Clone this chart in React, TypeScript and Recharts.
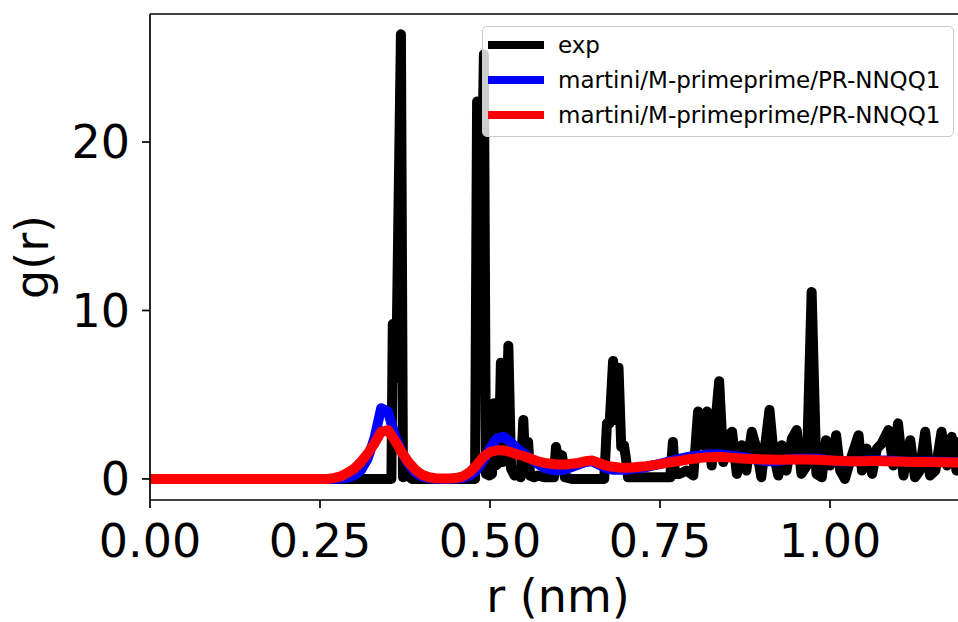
import React from "react";
import { LineChart, Line, XAxis, YAxis, ReferenceLine } from "recharts";

// experimental g(r): hand-read (r, g) pairs, spiky histogram
const expR = [
  0, 0.35, 0.355, 0.357, 0.362, 0.369, 0.372, 0.38, 0.385, 0.47,
  0.478, 0.481, 0.486, 0.491, 0.494, 0.499, 0.503, 0.506, 0.509, 0.513,
  0.516, 0.519, 0.523, 0.527, 0.531, 0.536, 0.541, 0.545, 0.549, 0.552,
  0.556, 0.559, 0.565, 0.57, 0.58, 0.59, 0.594, 0.597, 0.601, 0.606,
  0.61, 0.62, 0.668, 0.672, 0.676, 0.681, 0.685, 0.689, 0.693, 0.697,
  0.7, 0.703, 0.765, 0.769, 0.772, 0.779, 0.789, 0.799, 0.806, 0.813,
  0.819, 0.826, 0.837, 0.843, 0.848, 0.856, 0.863, 0.87, 0.877, 0.885,
  0.892, 0.899, 0.911, 0.917, 0.924, 0.929, 0.936, 0.944, 0.951, 0.958,
  0.966, 0.973, 0.98, 0.988, 0.994, 1.0, 1.009, 1.015, 1.022, 1.029,
  1.042, 1.047, 1.054, 1.062, 1.069, 1.076, 1.086, 1.093, 1.1, 1.108,
  1.118, 1.125, 1.132, 1.14, 1.147, 1.155, 1.164, 1.172, 1.179, 1.186,
  1.19, 1.195, 1.2,
];
const expG = [
  0, 0, 0, 9.2, 6, 26.4, 0.1, 0.2, 0, 0,
  0, 22.4, 12, 25.2, 0.3, 0.2, 0.3, 4.5, 0.8, 1.0,
  6.9, 1.0, 1.2, 7.9, 0.6, 0.2, 0.5, 0.1, 3.5, 0.6,
  2.2, 0.2, 0.1, 0.2, 0.1, 0.1, 0.1, 1.9, 1.0, 1.4,
  0.1, 0, 0, 3.3, 3.3, 7.0, 3.5, 6.6, 1.9, 2.0,
  1.2, 0.1, 0.1, 2.2, 0.3, 0.3, 0.5, 0.2, 4.0, 2.0,
  4.0, 0.8, 5.8, 1.0, 2.5, 2.8, 0.3, 2.0, 0.5, 2.8,
  1.8, 0.1, 4.1, 1.5, 0.2, 2.0, 0.5, 2.4, 2.9, 0.3,
  0.8, 11.1, 0.3, 0.1, 2.3, 0.8, 2.6, 0.5, 0, 1.0,
  2.6, 0.5, 1.8, 0.3, 1.8, 2.1, 2.9, 0.8, 3.3, 0.2,
  2.3, 0.1, 0.5, 2.8, 0.2, 0.5, 2.8, 0.8, 2.5, 0.5,
  2.2, 0.4, 1.0,
];

// simulation grid (nm) and the two martini curves
const simR = [
  0, 0.26, 0.27, 0.28, 0.29, 0.3, 0.31, 0.32, 0.33, 0.34,
  0.35, 0.36, 0.37, 0.38, 0.39, 0.4, 0.41, 0.42, 0.43, 0.44,
  0.45, 0.46, 0.47, 0.48, 0.49, 0.5, 0.51, 0.52, 0.53, 0.54,
  0.55, 0.56, 0.57, 0.58, 0.59, 0.6, 0.61, 0.62, 0.63, 0.64,
  0.65, 0.66, 0.67, 0.68, 0.69, 0.7, 0.71, 0.72, 0.73, 0.74,
  0.75, 0.76, 0.77, 0.78, 0.79, 0.8, 0.81, 0.82, 0.83, 0.84,
  0.85, 0.86, 0.87, 0.88, 0.89, 0.9, 0.91, 0.92, 0.93, 0.94,
  0.95, 0.96, 0.97, 0.98, 0.99, 1.0, 1.01, 1.02, 1.03, 1.04,
  1.05, 1.06, 1.07, 1.08, 1.09, 1.1, 1.11, 1.12, 1.13, 1.14,
  1.15, 1.16, 1.17, 1.18, 1.19, 1.2,
];
const blueG = [
  0, 0, 0, 0.02, 0.08, 0.2, 0.5, 1.2, 2.4, 4.2,
  4.0, 2.6, 1.6, 0.9, 0.4, 0.15, 0.05, 0.01, 0, 0,
  0.02, 0.06, 0.2, 0.5, 1.1, 1.8, 2.4, 2.5, 2.2, 1.8,
  1.5, 1.2, 0.9, 0.65, 0.55, 0.52, 0.55, 0.7, 0.85, 1.0,
  1.05, 0.85, 0.65, 0.55, 0.55, 0.55, 0.6, 0.65, 0.7, 0.8,
  0.9, 1.0, 1.1, 1.2, 1.3, 1.35, 1.4, 1.45, 1.45, 1.45,
  1.4, 1.35, 1.3, 1.25, 1.15, 1.1, 1.05, 1.05, 1.1, 1.15,
  1.2, 1.2, 1.2, 1.2, 1.15, 1.1, 1.05, 1.05, 1.05, 1.05,
  1.08, 1.1, 1.1, 1.1, 1.08, 1.05, 1.03, 1.02, 1.02, 1.03,
  1.03, 1.02, 1.0, 1.0, 0.98, 0.98,
];
const redG = [
  0, 0, 0.05, 0.15, 0.35, 0.6, 1.0, 1.5, 2.1, 2.8,
  2.9, 2.3, 1.6, 1.0, 0.55, 0.25, 0.1, 0.04, 0.02, 0.02,
  0.05, 0.15, 0.4, 0.8, 1.3, 1.6, 1.7, 1.7, 1.6, 1.45,
  1.35, 1.2, 1.05, 0.95, 0.9, 0.85, 0.85, 0.9, 0.95, 1.05,
  1.1, 0.95, 0.8, 0.72, 0.68, 0.66, 0.68, 0.72, 0.76, 0.82,
  0.88, 0.95, 1.02, 1.08, 1.15, 1.2, 1.25, 1.28, 1.3, 1.3,
  1.28, 1.25, 1.22, 1.2, 1.18, 1.16, 1.15, 1.14, 1.14, 1.15,
  1.16, 1.16, 1.15, 1.14, 1.12, 1.1, 1.08, 1.06, 1.05, 1.05,
  1.05, 1.06, 1.06, 1.05, 1.04, 1.03, 1.02, 1.01, 1.0, 1.0,
  1.0, 0.99, 0.99, 0.98, 0.98, 0.98,
];

const xTicks = [0, 0.25, 0.5, 0.75, 1.0];
const yTicks = [0, 10, 20];
const yMax = 27.6;

const seriesNames = [
  "exp",
  "martini/M-primeprime/PR-NNQQ1",
  "martini/M-primeprime/PR-NNQQ1",
];
const seriesColors = ["#000000", "#0000ff", "#ff0000"];

const expData = expR.map((r, i) => ({ r, g: expG[i] }));
const blueData = simR.map((r, i) => ({ r, g: blueG[i] }));
const redData = simR.map((r, i) => ({ r, g: redG[i] }));

const font = "DejaVu Sans";

export default function App() {
  return (
    <div
      style={{
        position: "absolute",
        left: 0,
        top: 0,
        width: 958,
        height: 622,
        overflow: "hidden",
        background: "#fff",
      }}
    >
      <LineChart width={966} height={622} margin={{ top: 14, right: 0, left: 0, bottom: 0 }}>
        <XAxis
          dataKey="r"
          type="number"
          domain={[0, 1.2]}
          ticks={xTicks}
          interval={0}
          allowDataOverflow
          tickFormatter={(v: number) => v.toFixed(2)}
          height={122}
          tickSize={8}
          tickMargin={16}
          stroke="#000"
          strokeWidth={1.7}
          tick={{ fill: "#000", fontSize: 46, fontFamily: font }}
          label={{
            value: "r (nm)",
            position: "insideBottom",
            offset: 10,
            fill: "#000",
            fontSize: 46,
            fontFamily: font,
          }}
        />
        <YAxis
          type="number"
          domain={[-1.25, yMax]}
          ticks={yTicks}
          interval={0}
          allowDataOverflow
          width={150}
          tickSize={8}
          tickMargin={12}
          stroke="#000"
          strokeWidth={1.7}
          tick={{ fill: "#000", fontSize: 46, fontFamily: font }}
          label={{
            value: "g(r)",
            angle: -90,
            position: "insideLeft",
            offset: 32,
            fill: "#000",
            fontSize: 46,
            fontFamily: font,
            style: { textAnchor: "middle" },
          }}
        />
        <ReferenceLine y={yMax} stroke="#000" strokeWidth={1.7} />
        <Line
          data={expData}
          dataKey="g"
          stroke={seriesColors[0]}
          strokeWidth={10}
          strokeLinejoin="round"
          strokeLinecap="round"
          dot={false}
          activeDot={false}
          isAnimationActive={false}
        />
        <Line
          data={blueData}
          dataKey="g"
          stroke={seriesColors[1]}
          strokeWidth={10}
          strokeLinejoin="round"
          strokeLinecap="round"
          dot={false}
          activeDot={false}
          isAnimationActive={false}
        />
        <Line
          data={redData}
          dataKey="g"
          stroke={seriesColors[2]}
          strokeWidth={10}
          strokeLinejoin="round"
          strokeLinecap="round"
          dot={false}
          activeDot={false}
          isAnimationActive={false}
        />
      </LineChart>
      {/* legend box, matplotlib style */}
      <div
        style={{
          position: "absolute",
          left: 482,
          top: 26,
          width: 470,
          height: 109,
          border: "1.5px solid #cccccc",
          borderRadius: 5,
          background: "rgba(255,255,255,0.8)",
          fontFamily: font,
          fontSize: 23,
          color: "#000",
        }}
      >
        {seriesNames.map((name, i) => (
          <div
            key={i}
            style={{
              position: "absolute",
              left: 5,
              top: 4 + i * 35,
              height: 28,
              display: "flex",
              alignItems: "center",
              whiteSpace: "nowrap",
            }}
          >
            <span
              style={{
                display: "inline-block",
                width: 56,
                height: 8,
                background: seriesColors[i],
                marginRight: 14,
              }}
            />
            <span>{name}</span>
          </div>
        ))}
      </div>
    </div>
  );
}
